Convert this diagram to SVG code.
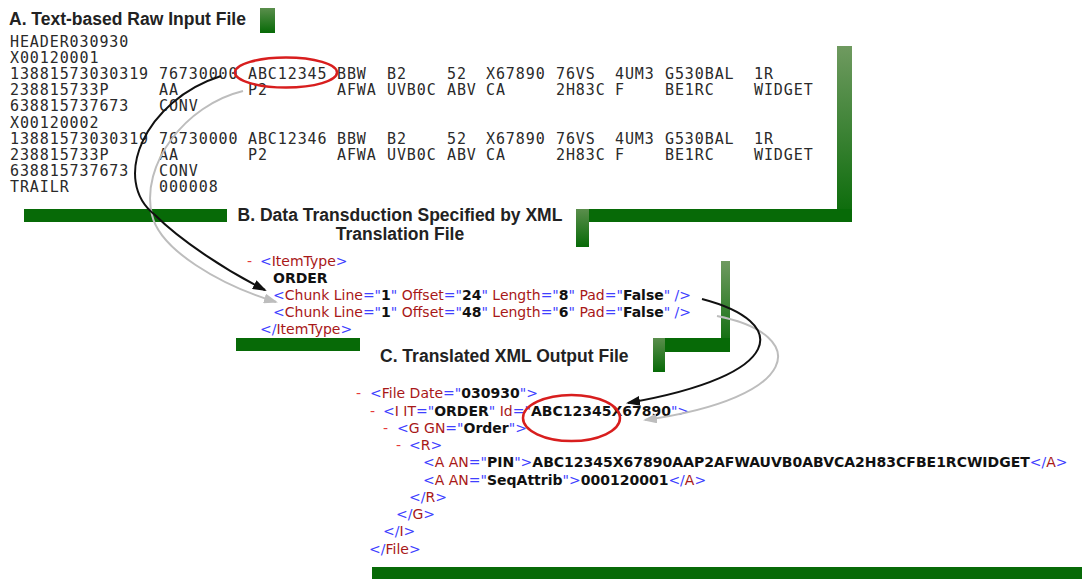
<svg xmlns="http://www.w3.org/2000/svg" width="1082" height="579" viewBox="0 0 1082 579">
<style>
.title{font-family:"Liberation Sans",Arial,sans-serif;font-weight:bold;font-size:17.5px;fill:#222}
.mono{font-family:"DejaVu Sans Mono",monospace;font-size:15px;fill:#2a2a2a;letter-spacing:0.9px}
.xml{font-family:"DejaVu Sans",Verdana,sans-serif;font-size:14px}
.m{fill:#4040ff}
.t{fill:#a81818}
.b{font-weight:bold;fill:#111}
.x{fill:#e53a3a}
.bar{fill:#076a07}
.vbar{fill:url(#vg)}
.ring{fill:none;stroke:#d81e1e;stroke-width:2.5}
.c-black{fill:none;stroke:#111;stroke-width:2}
.c-gray{fill:none;stroke:#bdbdbd;stroke-width:2}
</style>
<defs>
<linearGradient id="vg" x1="0" y1="0" x2="0" y2="1">
<stop offset="0" stop-color="#6f9a60"/>
<stop offset="1" stop-color="#076a07"/>
</linearGradient>
<linearGradient id="vg2" x1="0" y1="0" x2="0" y2="1">
<stop offset="0" stop-color="#5a8e4c"/>
<stop offset="1" stop-color="#076a07"/>
</linearGradient>
<marker id="ah-black" markerUnits="userSpaceOnUse" markerWidth="14" markerHeight="10" refX="12" refY="5" orient="auto">
<path d="M0,0 L14,5 L0,10 z" fill="#111"/>
</marker>
<marker id="ah-gray" markerUnits="userSpaceOnUse" markerWidth="14" markerHeight="10" refX="12" refY="5" orient="auto">
<path d="M0,0 L14,5 L0,10 z" fill="#bdbdbd"/>
</marker>
</defs>
<rect width="1082" height="579" fill="#fff"/>

<g id="frame-bars">
<rect x="260" y="8" width="15" height="25" fill="url(#vg2)"/>
<rect class="bar" x="24" y="209" width="203" height="13"/>
<rect class="vbar" x="837" y="46" width="15" height="176"/>
<rect class="bar" x="589" y="209" width="263" height="13"/>
<rect x="576" y="209" width="13" height="38" fill="url(#vg2)"/>
<rect class="bar" x="236" y="338" width="124" height="13"/>
<rect class="vbar" x="721" y="261" width="9" height="91"/>
<rect class="bar" x="665" y="338" width="65" height="14"/>
<rect x="653" y="338" width="12" height="34" fill="url(#vg2)"/>
<rect class="bar" x="372" y="567" width="710" height="12"/>
</g>

<g id="node-a-raw-input">
<text class="title" x="9" y="25">A. Text-based Raw Input File</text>
<g class="mono">
<text x="10" y="46.8">HEADER030930</text>
<text x="10" y="62.9">X00120001</text>
<text y="79.1"><tspan x="10">13881573030319</tspan><tspan x="159">76730000</tspan><tspan x="248">ABC12345</tspan><tspan x="337">BBW</tspan><tspan x="387">B2</tspan><tspan x="447">52</tspan><tspan x="486">X67890</tspan><tspan x="556">76VS</tspan><tspan x="615">4UM3</tspan><tspan x="665">G530BAL</tspan><tspan x="754">1R</tspan></text>
<text y="95.2"><tspan x="10">238815733P</tspan><tspan x="159">AA</tspan><tspan x="248">P2</tspan><tspan x="337">AFWA</tspan><tspan x="387">UVB0C</tspan><tspan x="447">ABV</tspan><tspan x="486">CA</tspan><tspan x="556">2H83C</tspan><tspan x="615">F</tspan><tspan x="665">BE1RC</tspan><tspan x="754">WIDGET</tspan></text>
<text y="111.3"><tspan x="10">638815737673</tspan><tspan x="159">CONV</tspan></text>
<text x="10" y="127.5">X00120002</text>
<text y="143.6"><tspan x="10">13881573030319</tspan><tspan x="159">76730000</tspan><tspan x="248">ABC12346</tspan><tspan x="337">BBW</tspan><tspan x="387">B2</tspan><tspan x="447">52</tspan><tspan x="486">X67890</tspan><tspan x="556">76VS</tspan><tspan x="615">4UM3</tspan><tspan x="665">G530BAL</tspan><tspan x="754">1R</tspan></text>
<text y="159.7"><tspan x="10">238815733P</tspan><tspan x="159">AA</tspan><tspan x="248">P2</tspan><tspan x="337">AFWA</tspan><tspan x="387">UVB0C</tspan><tspan x="447">ABV</tspan><tspan x="486">CA</tspan><tspan x="556">2H83C</tspan><tspan x="615">F</tspan><tspan x="665">BE1RC</tspan><tspan x="754">WIDGET</tspan></text>
<text y="175.8"><tspan x="10">638815737673</tspan><tspan x="159">CONV</tspan></text>
<text y="192"><tspan x="10">TRAILR</tspan><tspan x="159">000008</tspan></text>
</g>
<ellipse class="ring" cx="286" cy="72.5" rx="51" ry="15"/>
</g>

<g id="node-b-translation">
<text class="title" x="400" y="221" text-anchor="middle">B. Data Transduction Specified by XML</text>
<text class="title" x="400" y="240" text-anchor="middle">Translation File</text>
<g class="xml">
<text class="x" x="247" y="266">-</text>
<text x="260" y="266"><tspan class="m">&lt;</tspan><tspan class="t">ItemType</tspan><tspan class="m">&gt;</tspan></text>
<text class="b" x="273" y="283">ORDER</text>
<text x="273" y="300" xml:space="preserve"><tspan class="m">&lt;</tspan><tspan class="t">Chunk Line</tspan><tspan class="m">="</tspan><tspan class="b">1</tspan><tspan class="m">"</tspan><tspan class="t"> Offset</tspan><tspan class="m">="</tspan><tspan class="b">24</tspan><tspan class="m">"</tspan><tspan class="t"> Length</tspan><tspan class="m">="</tspan><tspan class="b">8</tspan><tspan class="m">"</tspan><tspan class="t"> Pad</tspan><tspan class="m">="</tspan><tspan class="b">False</tspan><tspan class="m">" /&gt;</tspan></text>
<text x="273" y="317" xml:space="preserve"><tspan class="m">&lt;</tspan><tspan class="t">Chunk Line</tspan><tspan class="m">="</tspan><tspan class="b">1</tspan><tspan class="m">"</tspan><tspan class="t"> Offset</tspan><tspan class="m">="</tspan><tspan class="b">48</tspan><tspan class="m">"</tspan><tspan class="t"> Length</tspan><tspan class="m">="</tspan><tspan class="b">6</tspan><tspan class="m">"</tspan><tspan class="t"> Pad</tspan><tspan class="m">="</tspan><tspan class="b">False</tspan><tspan class="m">" /&gt;</tspan></text>
<text x="260" y="334"><tspan class="m">&lt;/</tspan><tspan class="t">ItemType</tspan><tspan class="m">&gt;</tspan></text>
</g>
</g>

<g id="node-c-output">
<text class="title" x="380" y="362">C. Translated XML Output File</text>
<g class="xml">
<text class="x" x="356" y="398">-</text>
<text x="370" y="398" xml:space="preserve"><tspan class="m">&lt;</tspan><tspan class="t">File Date</tspan><tspan class="m">="</tspan><tspan class="b">030930</tspan><tspan class="m">"&gt;</tspan></text>
<text class="x" x="370" y="416">-</text>
<text x="383" y="416" xml:space="preserve"><tspan class="m">&lt;</tspan><tspan class="t">I IT</tspan><tspan class="m">="</tspan><tspan class="b">ORDER</tspan><tspan class="m">"</tspan><tspan class="t"> Id</tspan><tspan class="m">="</tspan><tspan class="b">ABC12345X67890</tspan><tspan class="m">"&gt;</tspan></text>
<text class="x" x="383" y="433">-</text>
<text x="397" y="433" xml:space="preserve"><tspan class="m">&lt;</tspan><tspan class="t">G GN</tspan><tspan class="m">="</tspan><tspan class="b">Order</tspan><tspan class="m">"&gt;</tspan></text>
<text class="x" x="396" y="450">-</text>
<text x="409" y="450"><tspan class="m">&lt;</tspan><tspan class="t">R</tspan><tspan class="m">&gt;</tspan></text>
<text x="423" y="467" xml:space="preserve"><tspan class="m">&lt;</tspan><tspan class="t">A AN</tspan><tspan class="m">="</tspan><tspan class="b">PIN</tspan><tspan class="m">"&gt;</tspan><tspan class="b">ABC12345X67890AAP2AFWAUVB0ABVCA2H83CFBE1RCWIDGET</tspan><tspan class="m">&lt;/</tspan><tspan class="t">A</tspan><tspan class="m">&gt;</tspan></text>
<text x="423" y="485" xml:space="preserve"><tspan class="m">&lt;</tspan><tspan class="t">A AN</tspan><tspan class="m">="</tspan><tspan class="b">SeqAttrib</tspan><tspan class="m">"&gt;</tspan><tspan class="b">000120001</tspan><tspan class="m">&lt;/</tspan><tspan class="t">A</tspan><tspan class="m">&gt;</tspan></text>
<text x="409" y="502"><tspan class="m">&lt;/</tspan><tspan class="t">R</tspan><tspan class="m">&gt;</tspan></text>
<text x="396" y="519"><tspan class="m">&lt;/</tspan><tspan class="t">G</tspan><tspan class="m">&gt;</tspan></text>
<text x="383" y="536"><tspan class="m">&lt;/</tspan><tspan class="t">I</tspan><tspan class="m">&gt;</tspan></text>
<text x="369" y="554"><tspan class="m">&lt;/</tspan><tspan class="t">File</tspan><tspan class="m">&gt;</tspan></text>
</g>
<ellipse class="ring" cx="571.5" cy="418" rx="48.5" ry="23"/>
</g>

<g id="connectors">
<path class="c-gray" d="M243 91 C185 105 140 165 152 215 C160 250 220 285 276 302" marker-end="url(#ah-gray)"/>
<path class="c-black" d="M221 76 C145 100 110 180 155 215 C180 240 225 270 265 290" marker-end="url(#ah-black)"/>
<path class="c-gray" d="M717 316 C812 335 802 398 645 420" marker-end="url(#ah-gray)"/>
<path class="c-black" d="M702 299 C790 322 788 375 628 403" marker-end="url(#ah-black)"/>
</g>
</svg>
